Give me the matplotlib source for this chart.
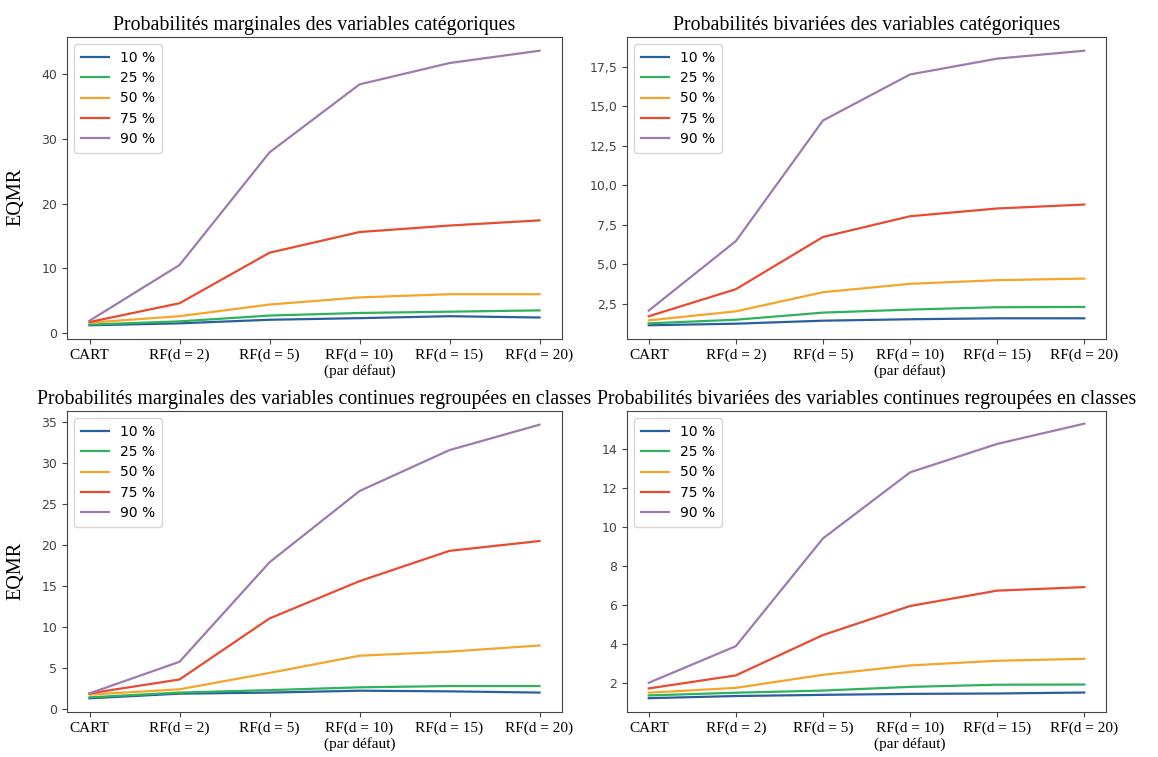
import numpy as np
import matplotlib
matplotlib.use("Agg")
import matplotlib.pyplot as plt

#%% data
modeles = ["CART", "RF(d = 2)", "RF(d = 5)", "RF(d = 10)\n(par défaut)",
           "RF(d = 15)", "RF(d = 20)"]
series = ["10 %", "25 %", "50 %", "75 %", "90 %"]
couleurs = ["#2a5f9e", "#2eb25c", "#f5a52a", "#e94b30", "#9c7bb0"]

titres = ["Probabilités marginales des variables catégoriques",
          "Probabilités bivariées des variables catégoriques",
          "Probabilités marginales des variables continues regroupées en classes",
          "Probabilités bivariées des variables continues regroupées en classes"]

# marginales, categoriques
marg_cat_10 = [1.2, 1.5, 2.05, 2.3, 2.6, 2.4]
marg_cat_25 = [1.3, 1.8, 2.7, 3.1, 3.3, 3.5]
marg_cat_50 = [1.6, 2.6, 4.4, 5.5, 6.0, 6.0]
marg_cat_75 = [1.7, 4.6, 12.4, 15.6, 16.6, 17.4]
marg_cat_90 = [1.9, 10.5, 27.9, 38.4, 41.7, 43.6]

# bivariees, categoriques
biv_cat_10 = [1.15, 1.25, 1.44, 1.53, 1.59, 1.59]
biv_cat_25 = [1.27, 1.5, 1.95, 2.14, 2.29, 2.31]
biv_cat_50 = [1.46, 2.03, 3.24, 3.77, 4.0, 4.1]
biv_cat_75 = [1.72, 3.43, 6.73, 8.04, 8.53, 8.78]
biv_cat_90 = [2.08, 6.47, 14.09, 17.0, 18.0, 18.5]

# marginales, continues en classes
marg_cont_10 = [1.3, 1.87, 2.0, 2.23, 2.15, 2.0]
marg_cont_25 = [1.42, 2.0, 2.3, 2.64, 2.8, 2.8]
marg_cont_50 = [1.75, 2.4, 4.4, 6.5, 7.0, 7.75]
marg_cont_75 = [1.9, 3.6, 11.05, 15.6, 19.3, 20.5]
marg_cont_90 = [1.9, 5.76, 17.9, 26.6, 31.6, 34.7]

# bivariees, continues en classes
biv_cont_10 = [1.21, 1.32, 1.38, 1.43, 1.45, 1.5]
biv_cont_25 = [1.35, 1.49, 1.6, 1.79, 1.9, 1.91]
biv_cont_50 = [1.49, 1.74, 2.41, 2.89, 3.13, 3.23]
biv_cont_75 = [1.71, 2.38, 4.45, 5.94, 6.73, 6.91]
biv_cont_90 = [2.0, 3.88, 9.41, 12.8, 14.26, 15.3]

donnees = [
    [marg_cat_10, marg_cat_25, marg_cat_50, marg_cat_75, marg_cat_90],
    [biv_cat_10, biv_cat_25, biv_cat_50, biv_cat_75, biv_cat_90],
    [marg_cont_10, marg_cont_25, marg_cont_50, marg_cont_75, marg_cont_90],
    [biv_cont_10, biv_cont_25, biv_cont_50, biv_cont_75, biv_cont_90],
]

#%% plotting
fig = plt.figure(figsize=(11.58, 7.57), dpi=100)
W, H = 1158, 757
# axes boxes in pixels: left, top, right, bottom
boites = [(67, 37, 562, 339), (627, 37, 1106, 339),
          (67, 411, 562, 712), (627, 411, 1106, 712)]

x = np.arange(len(modeles))
for k in range(4):
    l, t, r, b = boites[k]
    ax = fig.add_axes([l / W, 1 - b / H, (r - l) / W, (b - t) / H])
    for s in range(len(series)):
        ax.plot(x, donnees[k][s], color=couleurs[s], lw=1.6, label=series[s])
    ax.set_xticks(x)
    ax.set_xticklabels(modeles, family="Liberation Serif", fontsize=11,
                       color="black")
    ax.set_title(titres[k], family="Liberation Serif", fontsize=14.3, pad=5)
    ax.tick_params(axis="y", labelsize=9, labelcolor="#444444", color="#444444")
    ax.tick_params(axis="x", color="#444444")
    for sp in ax.spines.values():
        sp.set_color("#444444")
    if k == 1:
        ax.yaxis.set_major_formatter(
            matplotlib.ticker.FuncFormatter(lambda v, p: f"{v:.1f}".replace(".", ",")))
    if k == 3:
        ax.set_ylim(0.5, 15.95)
    if k in (0, 2):
        ax.set_ylabel("EQMR", family="Liberation Serif", fontsize=14.5)
        ax.yaxis.set_label_coords(-0.083, 0.47)
    ax.legend(loc="upper left", fontsize=10, handlelength=2.0, borderpad=0.5,
              labelspacing=0.45)

fig.savefig("out.png", dpi=100)
